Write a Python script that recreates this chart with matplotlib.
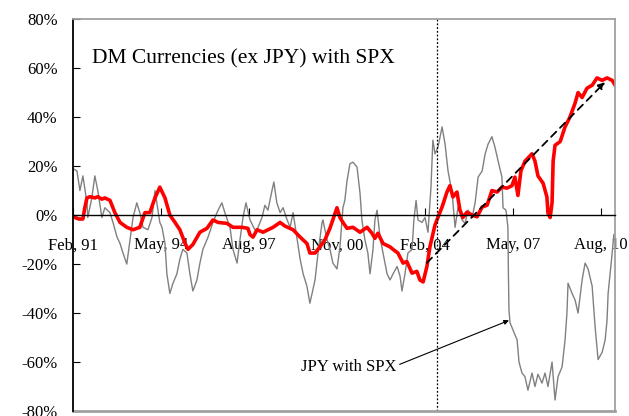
import numpy as np
import matplotlib.pyplot as plt

plt.rcParams['font.family'] = ['Liberation Serif', 'DejaVu Serif']

# DM currencies (ex JPY) with SPX, red line  (decimal year, %)
dm_years = [1991.08, 1991.30, 1991.45, 1991.52, 1991.60, 1991.71, 1991.89, 1992.00, 1992.15,
            1992.26, 1992.45, 1992.63, 1992.82, 1993.07, 1993.30, 1993.55, 1993.74, 1993.92,
            1994.11, 1994.29, 1994.48, 1994.66, 1994.85, 1995.03, 1995.22, 1995.33, 1995.51,
            1995.77, 1996.03, 1996.25, 1996.44, 1996.77, 1996.99, 1997.32, 1997.54, 1997.62,
            1997.73, 1997.88, 1998.10, 1998.47, 1998.73, 1998.91, 1999.21, 1999.47, 1999.72,
            1999.83, 2000.02, 2000.20, 2000.39, 2000.57, 2000.83, 2000.94, 2001.05, 2001.20,
            2001.42, 2001.68, 2001.94, 2002.12, 2002.23, 2002.34, 2002.53, 2002.79, 2002.90,
            2003.08, 2003.27, 2003.41, 2003.60, 2003.78, 2003.89, 2004.01, 2004.15, 2004.26,
            2004.45, 2004.52, 2004.71, 2004.89, 2005.00, 2005.11, 2005.26, 2005.37, 2005.48,
            2005.63, 2005.82, 2006.00, 2006.19, 2006.37, 2006.55, 2006.74, 2006.92, 2007.11,
            2007.29, 2007.40, 2007.51, 2007.62, 2007.77, 2008.03, 2008.14, 2008.25, 2008.44,
            2008.58, 2008.62, 2008.70, 2008.77, 2008.81, 2008.88, 2009.07, 2009.25, 2009.43,
            2009.62, 2009.73, 2009.88, 2010.06, 2010.25, 2010.43, 2010.62, 2010.80, 2010.99,
            2011.10]
dm_vals = [-0.7, -1.6, -1.6, 3, 7, 7.5, 7, 7.5, 6.5,
           7, 6, 1, -3, -5, -6, -5, 1, 1,
           7, 11.4, 7, 0, -3, -6, -11.5, -14, -12,
           -7, -5.4, -2, -3, -3.4, -5, -5, -5.4, -8,
           -9, -6, -7, -5, -3, -4.5, -6, -9, -11.6,
           -15.5, -15.5, -13, -10, -5.4, 3, -1, -3, -5.4,
           -5, -7, -5, -7.4, -9.5, -7.4, -11.6, -13, -14,
           -15.5, -19.6, -19, -23.7, -23, -26.5, -27.3, -21, -13,
           -4, -2, 3.3, 9.4, 12, 7.4, 9.4, 2, -1,
           1.2, 0, -0.7, 3.3, 4, 10, 9.4, 11.4, 11,
           12, 15.5, 8, 18, 22, 25, 22, 16, 13,
           7.4, 0.8, -1, 5, 22, 28.5, 30, 36, 40,
           45.7, 50, 48, 51.8, 53, 56, 55, 56, 55,
           53]

# JPY with SPX, gray line  (decimal year, %)
jpy_years = [1991.08, 1991.23, 1991.34, 1991.45, 1991.60, 1991.63, 1991.78, 1991.89, 1992.00,
             1992.15, 1992.26, 1992.45, 1992.56, 1992.71, 1992.82, 1992.93, 1993.07, 1993.19,
             1993.30, 1993.44, 1993.55, 1993.67, 1993.85, 1994.00, 1994.11, 1994.22, 1994.29,
             1994.37, 1994.48, 1994.55, 1994.66, 1994.77, 1994.92, 1995.03, 1995.14, 1995.29,
             1995.40, 1995.51, 1995.66, 1995.77, 1995.88, 1996.07, 1996.25, 1996.44, 1996.58,
             1996.69, 1996.88, 1996.99, 1997.14, 1997.25, 1997.36, 1997.47, 1997.62, 1997.80,
             1997.88, 1998.06, 1998.17, 1998.28, 1998.43, 1998.50, 1998.61, 1998.73, 1998.84,
             1998.99, 1999.10, 1999.21, 1999.36, 1999.47, 1999.58, 1999.72, 1999.83, 1999.91,
             2000.02, 2000.13, 2000.28, 2000.31, 2000.46, 2000.57, 2000.68, 2000.83, 2000.94,
             2001.05, 2001.12, 2001.20, 2001.31, 2001.42, 2001.57, 2001.68, 2001.75, 2001.86,
             2001.97, 2002.05, 2002.16, 2002.23, 2002.31, 2002.42, 2002.53, 2002.68, 2002.79,
             2002.90, 2003.05, 2003.16, 2003.23, 2003.34, 2003.45, 2003.60, 2003.67, 2003.75,
             2003.82, 2003.97, 2004.08, 2004.19, 2004.30, 2004.37, 2004.45, 2004.56, 2004.71,
             2004.82, 2004.93, 2005.08, 2005.19, 2005.30, 2005.45, 2005.56, 2005.67, 2005.82,
             2005.93, 2006.04, 2006.19, 2006.30, 2006.41, 2006.55, 2006.66, 2006.78, 2006.92,
             2006.96, 2007.07, 2007.14, 2007.16, 2007.18, 2007.22, 2007.33, 2007.48, 2007.55,
             2007.66, 2007.77, 2007.88, 2008.03, 2008.14, 2008.25, 2008.40, 2008.51, 2008.62,
             2008.77, 2008.88, 2008.99, 2009.14, 2009.25, 2009.32, 2009.36, 2009.51, 2009.62,
             2009.73, 2009.88, 2009.99, 2010.10, 2010.25, 2010.36, 2010.47, 2010.62, 2010.73,
             2010.80, 2010.84, 2010.99, 2011.05]
jpy_vals = [19, 18, 10, 16, 5, -1, 7, 16, 10,
            -1, 3, 1, -3, -9, -11.6, -15.5, -20, -10,
            -1, 5, 1, -5, -6, -1, 10, 2, -3,
            -5, -11.6, -24, -32, -28, -24, -18, -14, -15.5,
            -24, -31, -26.5, -19.6, -14, -9, -3, 2, 5,
            1, -5, -14, -19.6, -10, -1, 5, -2, -6,
            -6, -1, 4, 2, 10, 13.5, 5, 1, 3,
            -2, -5, 1, -10, -18, -24, -29, -36, -32,
            -26.5, -15.5, -3, -2, -10, -14, -19.6, -22, -13,
            3, 6, 14, 21, 21.6, 19.6, 9, -2, -10,
            -15.5, -24, -14, -2, 2, -9, -15.5, -24, -26.5,
            -24, -21, -25, -31, -24, -15.5, -14, -2, 6,
            -2, -3, -1, -7, 11.4, 30.6, 25, 27.8, 36,
            29, 18, 9, -5, 3.3, -2, -3.4, 2, -1,
            5, 15.5, 18, 25, 29, 32, 27.8, 22, 15.5,
            3, 2, -5, -25, -39, -44, -47, -51, -60,
            -64.5, -66, -71.5, -64.5, -70, -65, -68.6, -64.5, -70,
            -60, -75.5, -66, -62, -51, -40, -27.8, -32, -34.7,
            -40, -26.5, -19.6, -22, -29, -45.7, -59, -56, -51,
            -43, -32, -15.5, -8]

tick_years = [1991.083, 1994.333, 1997.583, 2000.833, 2004.083, 2007.333, 2010.583]
tick_labels = ['Feb, 91', 'May, 94', 'Aug, 97', 'Nov, 00', 'Feb, 04', 'May, 07', 'Aug, 10']
y_ticks = list(range(-80, 81, 20))

trend_start = (2004.15, -19.5)
trend_end = (2010.73, 54.3)
split_year = 2004.52
note_xy = (2007.18, -43.0)
note_text_pos = (2003.04, -63.7)

fig = plt.figure(figsize=(6.29, 4.16), dpi=100)
ax = fig.add_axes([0.116, 0.012, 0.862, 0.942])

ax.plot(jpy_years, jpy_vals, color='#808080', lw=1.0)
ax.plot(dm_years, dm_vals, color='red', lw=2.6)

# trend arrow
ax.annotate('', xy=trend_end, xytext=trend_start,
            arrowprops=dict(arrowstyle='-|>', color='black', lw=1.3, linestyle=(0, (4, 3)),
                            mutation_scale=10, shrinkA=0, shrinkB=0))
ax.axvline(split_year, color='black', lw=0.9, ls=(0, (1.5, 1.5)))

ax.annotate('JPY with SPX', xy=note_xy, xytext=note_text_pos, ha='right', va='baseline',
            fontsize=12,
            arrowprops=dict(arrowstyle='-|>', color='black', lw=0.8, mutation_scale=7,
                            shrinkA=0, shrinkB=0, relpos=(1, 0.6)))

ax.text(0.035, 0.888, 'DM Currencies (ex JPY) with SPX', transform=ax.transAxes,
        fontsize=15.5, va='baseline')

ax.set_xlim(1991.083, 2011.10)
ax.set_ylim(-80, 80)
ax.set_yticks(y_ticks, [f'{v}%' for v in y_ticks])
ax.set_xticks(tick_years, tick_labels)

ax.spines['bottom'].set_position(('data', 0))
ax.spines['bottom'].set_color('black')
ax.spines['bottom'].set_linewidth(1.0)
ax.spines['left'].set_color('black')
ax.spines['left'].set_linewidth(1.3)
for s in ['top', 'right']:
    ax.spines[s].set_color('#a0a0a0')
    ax.spines[s].set_linewidth(1.3)
ax.axhline(-80, color='#a0a0a0', lw=2.0, clip_on=False)

ax.tick_params(axis='x', direction='in', length=5, width=0.8, pad=16, labelsize=12)
ax.tick_params(axis='y', direction='in', length=5, width=0.8, pad=11, labelsize=12)

fig.savefig('out.png', dpi=100)
